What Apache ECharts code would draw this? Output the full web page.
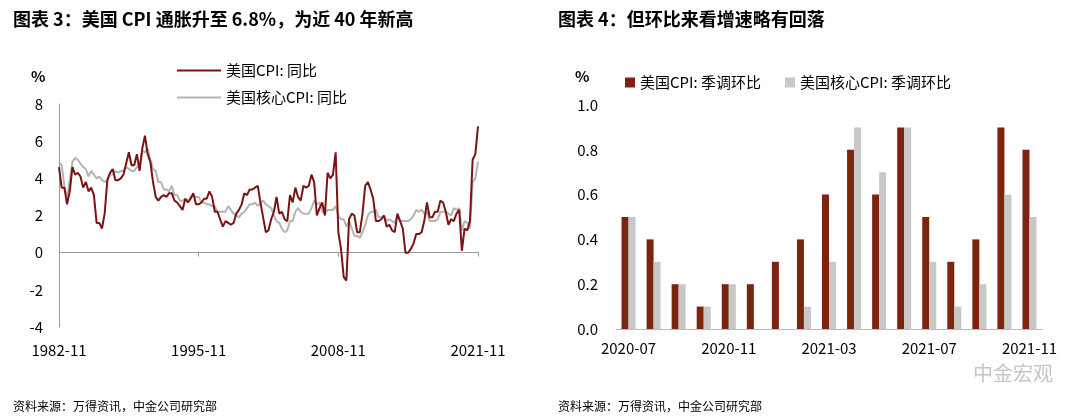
<!DOCTYPE html>
<html>
<head>
<meta charset="utf-8">
<script src="https://cdn.jsdelivr.net/npm/echarts@6/dist/echarts.min.js"></script>
<style>
html,body{margin:0;padding:0;background:#fff}
#chart{width:1080px;height:417px}
</style>
</head>
<body>
<div id="chart"></div>
<script>
// left panel, quarterly (Nov/Feb/May/Aug) from 1982-11 to 2021-11
var cpiYoy = [4.6,
  3.5,3.5,2.6,3.3, 4.6,4.2,4.3,4.1, 3.5,3.8,3.3,3.5, 3.1,1.6,1.6,1.3, 2.1,3.9,4.3,4.5,
  3.9,3.9,4.0,4.2, 4.8,5.4,4.7,4.7, 5.3,4.4,5.6,6.3, 5.3,4.9,3.8,3.0, 2.8,3.0,3.1,3.0,
  3.2,3.2,2.8,2.7, 2.5,2.3,2.9,2.7, 2.9,3.2,2.6,2.6, 2.7,2.9,2.9,3.3, 3.0,2.2,2.2,1.8,
  1.4,1.7,1.6,1.5, 1.6,2.1,2.3,2.6, 3.2,3.1,3.4,3.4, 3.5,3.6,2.7,1.9, 1.1,1.2,1.8,2.2,
  3.0,2.1,2.2,1.8, 1.7,3.1,2.7,3.5, 3.0,2.8,3.6,3.5, 3.6,4.2,3.8,2.0, 2.4,2.7,2.0,4.3,
  4.0,4.2,5.4,1.1, 0.2,-1.3,-1.5,1.8, 2.1,2.0,1.1,1.1, 2.1,3.6,3.8,3.4, 2.9,1.7,1.7,1.8,
  2.0,1.4,1.5,1.2, 1.1,2.1,1.7,1.3, 0.0,0.0,0.2,0.5, 1.0,1.0,1.1,1.7, 2.7,1.9,1.9,2.2,
  2.2,2.8,2.7,2.2, 1.5,1.8,1.7,2.1, 2.3,0.1,1.3,1.2, 1.7,5.0,5.3,6.8];
var coreYoy = [4.9,
  4.7,3.6,2.9,3.9, 4.9,5.1,5.0,4.8, 4.6,4.5,4.1,4.4, 4.2,4.0,4.1,3.9, 3.8,3.9,4.2,4.2,
  4.4,4.3,4.4,4.4, 4.6,4.5,4.4,4.4, 4.6,4.7,5.5,5.4, 5.6,5.0,4.5,4.4, 3.8,3.8,3.4,3.4,
  3.3,3.6,3.1,3.1, 2.8,2.8,2.9,2.8, 3.0,3.1,3.0,3.0, 2.7,2.7,2.6,2.6, 2.5,2.5,2.2,2.2,
  2.2,2.2,2.5,2.3, 2.1,2.0,1.9,2.1, 2.2,2.4,2.6,2.6, 2.7,2.5,2.7,2.8, 2.6,2.5,2.4,2.0,
  1.7,1.6,1.3,1.1, 1.2,1.7,1.7,2.2, 2.4,2.2,2.1,2.1, 2.1,2.4,2.8,2.6, 2.7,2.2,2.1,2.3,
  2.3,2.3,2.5,2.0, 1.8,1.8,1.4,1.7, 1.3,0.9,0.9,0.8, 1.1,1.5,2.0,2.2, 2.2,2.3,1.9,1.9,
  2.0,1.7,1.8,1.7, 1.6,2.0,1.7,1.7, 1.7,1.7,1.8,2.0, 2.3,2.2,2.3,2.1, 2.2,1.7,1.7,1.7,
  1.8,2.2,2.2,2.2, 2.1,2.0,2.4,2.3, 2.4,1.2,1.7,1.6, 1.3,3.8,4.0,4.9];
var quarterLabels = ['1982-11'];
for (var y = 1983; y <= 2021; y++) {
  ['02','05','08','11'].forEach(function(m){ quarterLabels.push(y + '-' + m) });
}

// right panel, monthly 2020-07 .. 2021-11
var months = ['2020-07','2020-08','2020-09','2020-10','2020-11','2020-12','2021-01','2021-02',
  '2021-03','2021-04','2021-05','2021-06','2021-07','2021-08','2021-09','2021-10','2021-11'];
var cpiMom = [0.5,0.4,0.2,0.1,0.2,0.2,0.3,0.4,0.6,0.8,0.6,0.9,0.5,0.3,0.4,0.9,0.8];
var coreMom = [0.5,0.3,0.2,0.1,0.2,0,0,0.1,0.3,0.9,0.7,0.9,0.3,0.1,0.2,0.6,0.5];

var RED = '#7a1414', BRN = '#7c2410', GRY = '#b4b4b4', GRY2 = '#c8c8c8';
var FONT = '"Noto Sans CJK SC", "Open Sans", sans-serif';
var txt = { color: '#000', fontSize: 15, fontFamily: FONT };

var chart = echarts.init(document.getElementById('chart'));
chart.setOption({
  animation: false,
  textStyle: { fontFamily: FONT },
  title: [
    { text: '图表 3：美国 CPI 通胀升至 6.8%，为近 40 年新高', left: 8, top: 5,
      textStyle: { fontSize: 18, fontWeight: 'bold', color: '#000', fontFamily: FONT } },
    { text: '图表 4：但环比来看增速略有回落', left: 553, top: 5,
      textStyle: { fontSize: 18, fontWeight: 'bold', color: '#000', fontFamily: FONT } },
    { text: '资料来源：万得资讯，中金公司研究部', left: 8, top: 395,
      textStyle: { fontSize: 12, fontWeight: 'normal', color: '#000', fontFamily: FONT } },
    { text: '资料来源：万得资讯，中金公司研究部', left: 553, top: 395,
      textStyle: { fontSize: 12, fontWeight: 'normal', color: '#000', fontFamily: FONT } },
    { text: '中金宏观', left: 968, top: 358,
      textStyle: { fontSize: 20, fontWeight: 'normal', color: 'rgba(150,150,150,0.55)', fontFamily: FONT } },
    { text: '%', left: 26, top: 64, textStyle: txt },
    { text: '%', left: 570, top: 64, textStyle: txt }
  ],
  legend: [
    { data: ['美国CPI: 同比', '美国核心CPI: 同比'], orient: 'vertical', left: 172, top: 58,
      itemGap: 12, itemWidth: 44, itemHeight: 2, icon: 'rect', textStyle: txt },
    { data: ['美国CPI: 季调环比', '美国核心CPI: 季调环比'], left: 620, top: 70,
      itemGap: 24, itemWidth: 10, itemHeight: 10, icon: 'rect', textStyle: txt }
  ],
  grid: [
    { left: 59, right: 602, top: 104, bottom: 90 },
    { left: 616, right: 38, top: 105, bottom: 88 }
  ],
  xAxis: [
    { gridIndex: 0, type: 'category', data: quarterLabels, boundaryGap: false,
      axisLine: { onZero: true, lineStyle: { color: '#999' } },
      axisTick: { show: true, interval: 51, length: 4, lineStyle: { color: '#999' } },
      axisLabel: { interval: 51, color: '#000', fontSize: 15, margin: 16 } },
    { gridIndex: 1, type: 'category', data: months,
      axisLine: { lineStyle: { color: '#bbb' } }, axisTick: { show: false },
      axisLabel: { interval: 3, color: '#000', fontSize: 15, margin: 12 } }
  ],
  yAxis: [
    { gridIndex: 0, type: 'value', min: -4, max: 8, interval: 2,
      axisLine: { show: true, lineStyle: { color: '#999' } }, axisTick: { show: false },
      splitLine: { show: false }, axisLabel: { color: '#000', fontSize: 15, margin: 16 } },
    { gridIndex: 1, type: 'value', min: 0, max: 1, interval: 0.2,
      axisLine: { show: false }, axisTick: { show: false }, splitLine: { show: false },
      axisLabel: { color: '#000', fontSize: 15, margin: 18,
        formatter: function(v){ return v.toFixed(1) } } }
  ],
  series: [
    { name: '美国核心CPI: 同比', type: 'line', data: coreYoy, xAxisIndex: 0, yAxisIndex: 0,
      showSymbol: false, lineStyle: { color: GRY, width: 2 }, itemStyle: { color: GRY } },
    { name: '美国CPI: 同比', type: 'line', data: cpiYoy, xAxisIndex: 0, yAxisIndex: 0,
      showSymbol: false, lineStyle: { color: RED, width: 2 }, itemStyle: { color: RED } },
    { name: '美国CPI: 季调环比', type: 'bar', data: cpiMom, xAxisIndex: 1, yAxisIndex: 1,
      barWidth: 7, barGap: '0%', itemStyle: { color: BRN } },
    { name: '美国核心CPI: 季调环比', type: 'bar', data: coreMom, xAxisIndex: 1, yAxisIndex: 1,
      barWidth: 7, barGap: '0%', itemStyle: { color: GRY2 } }
  ]
});
</script>
</body>
</html>
